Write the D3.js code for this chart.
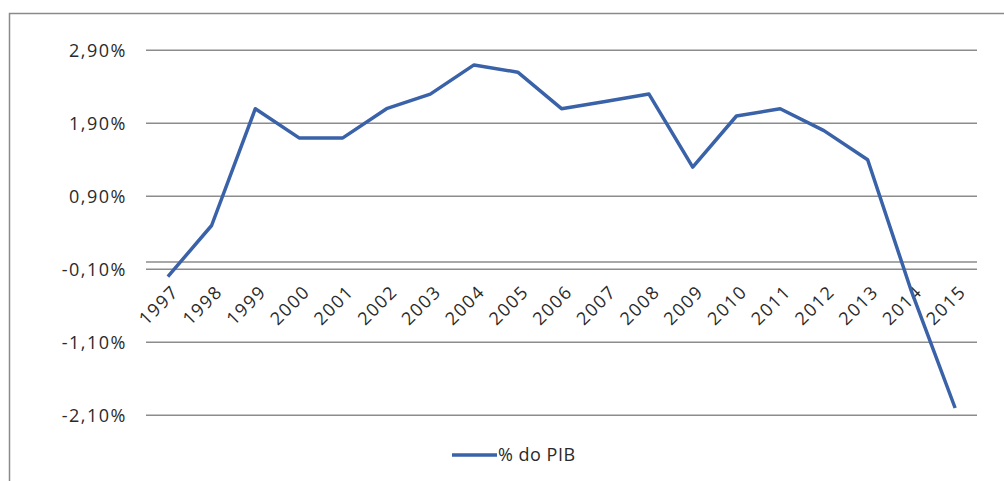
<!DOCTYPE html>
<html><head><meta charset="utf-8">
<script src="https://cdn.jsdelivr.net/npm/d3@7"></script>
<style>body{margin:0;background:#fff}</style>
</head><body>
<svg id="c" width="1004" height="481"></svg>
<script>
const years = ["1997","1998","1999","2000","2001","2002","2003","2004","2005","2006","2007","2008","2009","2010","2011","2012","2013","2014","2015"];
const values = [-0.2,0.5,2.1,1.7,1.7,2.1,2.3,2.7,2.6,2.1,2.2,2.3,1.3,2.0,2.1,1.8,1.4,-0.4,-2.0];
const yTicks = [2.9,1.9,0.9,-0.1,-1.1,-2.1];
const seriesName = "% do PIB";

const svg = d3.select("#c");
const font = "'Open Sans', 'Noto Sans', sans-serif";
// frame
svg.append("rect").attr("x",9.5).attr("y",13.5).attr("width",1010).attr("height",500)
  .attr("fill","none").attr("stroke","#8a8a8a").attr("stroke-width",1.5);

const x = d3.scaleBand().domain(years).range([146,977]);
const y = d3.scaleLinear().domain([0,1]).range([262,189]);

// gridlines
svg.append("g").selectAll("line").data(yTicks).join("line")
  .attr("x1",146).attr("x2",977).attr("y1",d=>y(d)).attr("y2",d=>y(d))
  .attr("stroke","#8c8c8c").attr("stroke-width",1.5);
// category axis at zero
svg.append("line").attr("x1",146).attr("x2",977).attr("y1",y(0)).attr("y2",y(0))
  .attr("stroke","#8c8c8c").attr("stroke-width",1.5);

// y labels
svg.append("g").selectAll("text").data(yTicks).join("text")
  .attr("x",127).attr("y",d=>y(d)).attr("dy","0.35em").attr("text-anchor","end")
  .attr("font-family",font).attr("font-size",18).attr("letter-spacing","1.5px").attr("fill","#2a2a2a")
  .text(d=>d3.format(".2f")(d).replace(".",",").replace("−","-")+"%");

// x labels
svg.append("g").selectAll("text").data(years).join("text")
  .attr("transform",d=>`translate(${x(d)+x.bandwidth()/2+12},${y(0)+31}) rotate(-45)`)
  .attr("text-anchor","end")
  .attr("font-family",font).attr("font-size",18).attr("letter-spacing","1.5px").attr("fill","#2a2a2a")
  .text(d=>d);

// line
const line = d3.line().x((d,i)=>x(years[i])+x.bandwidth()/2).y(d=>y(d));
svg.append("path").datum(values).attr("d",line).attr("fill","none")
  .attr("stroke","#3a62a8").attr("stroke-width",3.5).attr("stroke-linejoin","round");

// legend
svg.append("line").attr("x1",452).attr("x2",497).attr("y1",455).attr("y2",455)
  .attr("stroke","#3a62a8").attr("stroke-width",3.5);
svg.append("text").attr("x",498).attr("y",455).attr("dy","0.35em")
  .attr("font-family",font).attr("font-size",18).attr("letter-spacing","0.5px").attr("fill","#2a2a2a").text(seriesName);
</script>
</body></html>
